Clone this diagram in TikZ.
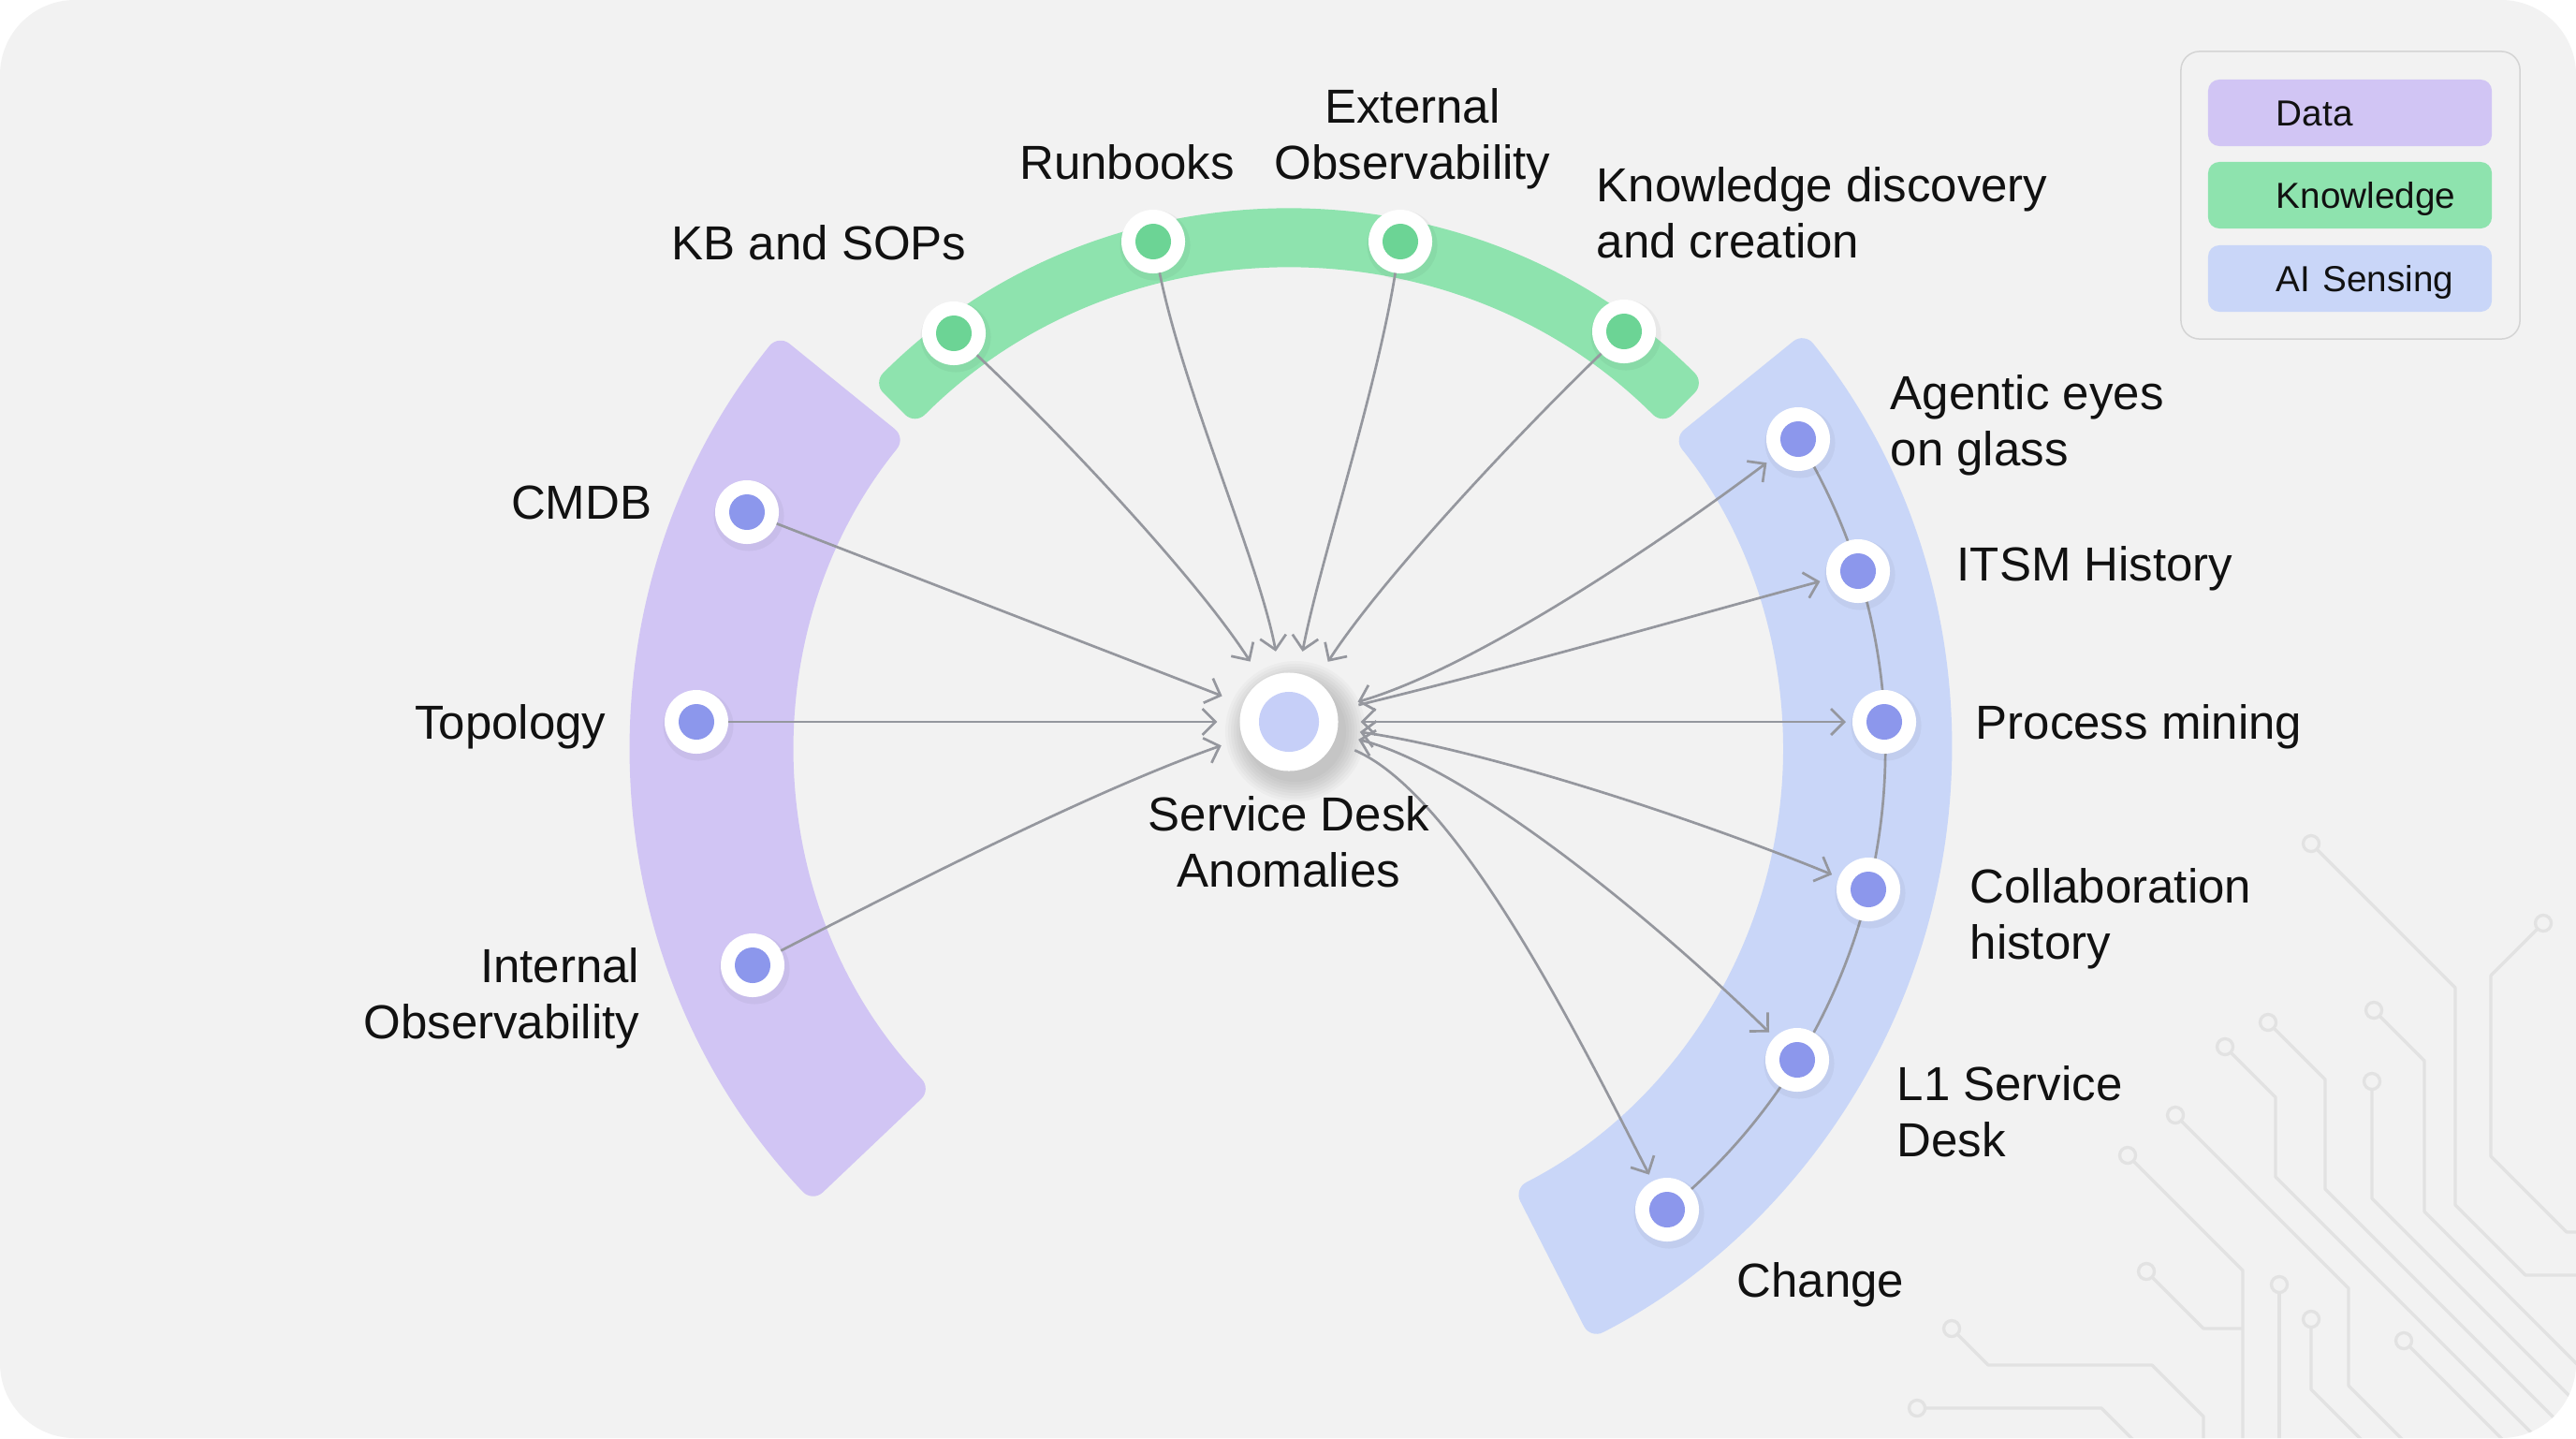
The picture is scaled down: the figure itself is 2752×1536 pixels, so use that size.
\documentclass[tikz,border=0pt]{standalone}
\usepackage{fontspec}
\setmainfont{Liberation Sans}
\usetikzlibrary{arrows.meta}
\definecolor{bgc}{HTML}{F2F2F2}
\definecolor{purp}{HTML}{D1C5F4}
\definecolor{grn}{HTML}{8EE3AE}
\definecolor{grnd}{HTML}{6CD495}
\definecolor{blu}{HTML}{C9D6F8}
\definecolor{blud}{HTML}{8C97EC}
\definecolor{cenc}{HTML}{C6CFF8}
\definecolor{arrc}{HTML}{95979E}
\definecolor{trace}{HTML}{E2E2E2}
\definecolor{legline}{HTML}{D4D4D4}
\definecolor{txt}{HTML}{111111}
\begin{document}
\begin{tikzpicture}[x=0.01cm,y=-0.01cm,
  >={Straight Barb[length=1.4mm,width=2.8mm]},
  dot/.style={circle,fill=white,minimum size=6.8mm,inner sep=0pt,outer sep=0pt,
    path picture={\fill[#1] (path picture bounding box.center) circle (1.9mm);}},
  conn/.style={draw=arrc,line width=0.27mm},
  lbl/.style={font=\fontsize{14.5}{17}\selectfont,text=txt,inner sep=0pt},
  legbox/.style={rounded corners=1.2mm,minimum width=30.3mm,minimum height=7.1mm,
    text width=30.3mm,inner sep=0pt,align=left,text height=2.7mm,text depth=0pt,
    font=\fontsize{11}{13}\selectfont,text=txt},
  trc/.style={draw=trace,line width=0.33mm,line join=round},
  ring/.style={draw=trace,line width=0.33mm,fill=bgc},
  band/.style={rounded corners=1.5mm}
]
\useasboundingbox (0,0) rectangle (2752,1536);
\fill[white] (0,0) rectangle (2752,1536);
\fill[bgc,rounded corners=8mm] (0,0) rectangle (2752,1536);

% circuit traces
\begin{scope}
\clip[rounded corners=8mm] (0,0) rectangle (2752,1536);
\draw[trc] (2469,901) -- (2623,1055) -- (2623,1287) -- (2698,1362) -- (2800,1362);
\draw[trc] (2717,986) -- (2661,1042) -- (2661,1235) -- (2742,1316) -- (2800,1316);
\draw[trc] (2536,1079) -- (2590,1133) -- (2590,1294) -- (2900,1604);
\draw[trc] (2534,1155) -- (2534,1280) -- (2900,1646);
\draw[trc] (2423,1092) -- (2484,1153) -- (2484,1270) -- (2900,1686);
\draw[trc] (2377,1118) -- (2431,1172) -- (2431,1257) -- (2900,1726);
\draw[trc] (2324,1191) -- (2509,1376) -- (2509,1480) -- (2700,1671);
\draw[trc] (2273,1234) -- (2396,1357) -- (2396,1600);
\draw[trc] (2293,1358) -- (2354,1419) -- (2396,1419);
\draw[trc] (2435,1372) -- (2435,1600);
\draw[trc] (2469,1409) -- (2469,1484) -- (2600,1615);
\draw[trc] (2568,1432) -- (2750,1614);
\draw[trc] (2085,1419) -- (2124,1458) -- (2299,1458) -- (2354,1513) -- (2354,1600);
\draw[trc] (2048,1504) -- (2245,1504) -- (2340,1599);
\foreach \x/\y in {2469/901,2717/986,2536/1079,2534/1155,2423/1092,2377/1118,2324/1191,2273/1234,2293/1358,2435/1372,2469/1409,2568/1432,2085/1419,2048/1504}
  \draw[ring] (\x,\y) circle (0.85mm);
\end{scope}

% bands
\fill[purp,band] ([shift={(1378,800)}]-141:703) arc[start angle=-141,end angle=-223.5,radius=703]
  -- ([shift={(1378,800)}]-223.5:528) arc[start angle=-223.5,end angle=-141,radius=528] -- cycle;
\fill[grn,band] ([shift={(1377,853)}]-135:628) arc[start angle=-135,end angle=-45,radius=628]
  -- ([shift={(1377,853)}]-45:565) arc[start angle=-45,end angle=-135,radius=565] -- cycle;
\fill[blu,band] ([shift={(1378,800)}]-39:707) arc[start angle=-39,end angle=63,radius=707]
  -- ([shift={(1378,800)}]63:527) arc[start angle=63,end angle=-39,radius=527] -- cycle;

% legend
\node[draw=legline,line width=0.15mm,rounded corners=2mm,minimum width=36.2mm,minimum height=30.7mm,inner sep=0pt] (leg) at (2511,208.5) {};
\node[legbox,fill=purp] (lgD) at (2510.5,120.5) {\hspace*{7.3mm}Data};
\node[legbox,fill=grn] (lgK) at (2510.5,208.5) {\hspace*{7.3mm}Knowledge};
\node[legbox,fill=blu] (lgA) at (2510.5,297.5) {\hspace*{7.3mm}AI Sensing};

% blue dot positions and connecting arc
\coordinate (pag) at (1921,469);
\coordinate (pit) at (1985,610);
\coordinate (ppm) at (2013,771);
\coordinate (pco) at (1996,950);
\coordinate (pl1) at (1920,1132);
\coordinate (pch) at (1781,1292);
\draw[arrc,line width=0.27mm] (pag) arc[start angle=-31.4,end angle=50.7,radius=636];

% faint dot shadows
\foreach \x/\y in {798/547,744/771,804/1031,1019/356,1232/258,1496/258,1735/354,1921/469,1985/610,2013/771,1996/950,1920/1132,1781/1292}
  \fill[black,opacity=0.04] (\x+2,\y+4) circle (3.75mm);

% dots
\node[dot=blud] (cm) at (798,547) {};
\node[dot=blud] (tp) at (744,771) {};
\node[dot=blud] (io) at (804,1031) {};
\node[dot=grnd] (kb) at (1019,356) {};
\node[dot=grnd] (rb) at (1232,258) {};
\node[dot=grnd] (eo) at (1496,258) {};
\node[dot=grnd] (kd) at (1735,354) {};
\node[dot=blud] (ag) at (pag) {};
\node[dot=blud] (it) at (pit) {};
\node[dot=blud] (pm) at (ppm) {};
\node[dot=blud] (co) at (pco) {};
\node[dot=blud] (l1) at (pl1) {};
\node[dot=blud] (ch) at (pch) {};

% centre
\foreach \r in {5.4,5.7,6.0,6.3,6.6,6.9,7.2,7.5}
  \fill[black,opacity=0.025] (1384,781) circle (\r mm);
\node[circle,fill=white,minimum size=10.5mm,inner sep=0pt,outer sep=2.4mm,
  path picture={\fill[cenc] (path picture bounding box.center) circle (3.2mm);}] (sd) at (1377,771) {};

% connectors into the centre
\draw[conn,->] (cm) -- (sd);
\draw[conn,->] (tp) -- (sd);
\draw[conn,->] (io) .. controls (1000,930) and (1180,840) .. (sd);
\draw[conn,->] (kb) .. controls (1140,470) and (1280,620) .. (sd);
\draw[conn,->] (rb) .. controls (1265,420) and (1345,600) .. (sd);
\draw[conn,->] (eo) .. controls (1470,420) and (1410,600) .. (sd);
\draw[conn,->] (kd) .. controls (1615,470) and (1475,620) .. (sd);
% connectors out of the centre
\draw[conn,<->,shorten >=0.8mm] (sd) .. controls (1570,715) and (1760,590) .. (ag);
\draw[conn,->,shorten >=0.8mm] (sd) .. controls (1620,712) and (1800,660) .. (it);
\draw[conn,<->,shorten >=0.7mm] (sd) -- (pm);
\draw[conn,<->,shorten >=0.8mm] (sd) .. controls (1580,800) and (1800,870) .. (co);
\draw[conn,<->,shorten >=0.8mm] (sd) .. controls (1570,820) and (1770,985) .. (l1);
\draw[conn,->,shorten >=0.8mm] (sd) .. controls (1560,850) and (1690,1115) .. (ch);

% labels
\node[lbl,anchor=north,align=center] (tsd) at (1377,850) {Service Desk\\Anomalies};
\node[lbl,anchor=north east] (tkb) at (1033,240) {KB and SOPs};
\node[lbl,anchor=north] (trb) at (1204,154) {Runbooks};
\node[lbl,anchor=north,align=center] (teo) at (1509,94) {External\\Observability};
\node[lbl,anchor=north west,align=left] (tkd) at (1705,178) {Knowledge discovery\\and creation};
\node[lbl,anchor=north west,align=left] (tag) at (2019,400) {Agentic eyes\\on glass};
\node[lbl,anchor=north west] (tit) at (2090,583) {ITSM History};
\node[lbl,anchor=north west] (tpm) at (2110,752) {Process mining};
\node[lbl,anchor=north west,align=left] (tco) at (2104,927) {Collaboration\\history};
\node[lbl,anchor=north west,align=left] (tl1) at (2026,1138) {L1 Service\\Desk};
\node[lbl,anchor=north west] (tch) at (1855,1348) {Change};
\node[lbl,anchor=north east] (tcm) at (697,518) {CMDB};
\node[lbl,anchor=north east] (ttp) at (648,752) {Topology};
\node[lbl,anchor=north east,align=right] (tio) at (684,1012) {Internal\\Observability};
\end{tikzpicture}
\end{document}
